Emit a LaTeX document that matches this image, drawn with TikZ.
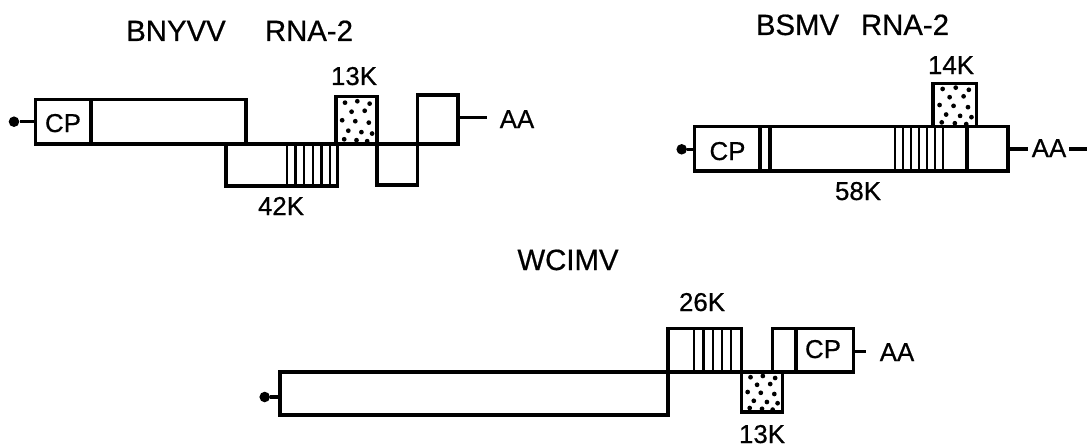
\documentclass[tikz,border=0pt]{standalone}
\usepackage{fontspec}
\setmainfont{Liberation Sans}[FakeBold=0.6]
\newcommand{\mystip}[4]{%
  \foreach \u/\v in {0.22/0.13,0.52/0.1,0.82/0.15,0.38/0.32,0.7/0.3,0.15/0.5,0.47/0.52,0.8/0.55,0.3/0.72,0.62/0.75,0.88/0.78,0.2/0.9,0.5/0.92,0.76/0.94}{%
    \fill ({#1+\u*(#3-#1)},{#2+\v*(#4-#2)}) circle[radius=1.35pt];}}
\begin{document}
\begin{tikzpicture}[x=0.02cm,y=-0.02cm,
  bx/.style={line width=1.8pt,line join=miter},
  hl/.style={line width=1.6pt},
  lab/.style={inner sep=0pt,anchor=base,font=\fontsize{14.7}{16}\selectfont},
  ttl/.style={inner sep=0pt,anchor=base,font=\fontsize{16.7}{19}\selectfont},
  cap5/.style={circle,fill=black,inner sep=0pt,minimum size=6pt}]
\useasboundingbox (0,0) rectangle (1087,446);

% ---------- BNYVV RNA-2 ----------
\node[ttl] (t1a) at (176,41) {BNYVV};
\node[ttl] (t1b) at (309,41) {RNA-2};
\node[cap5] (d1) at (14,121.7) {};
\coordinate (b1l) at (35.5,121.7);
\draw[bx] (d1) -- (b1l);
\draw[bx] (35.5,99.5) rectangle (246,144);
\draw[bx] (91,99.5) -- (91,144);
\node[lab] (cp1) at (63,132) {CP};
\draw[bx] (226,144) rectangle (337.5,186);
\foreach \x in {287,295.5,304,313,321.5,330} \draw[hl] (\x,144) -- (\x,186);
\node[lab] (k42) at (281,215) {42K};
\draw[bx,fill=white] (336,96.5) rectangle (377,144);
\mystip{336}{96.5}{377}{144}
\node[lab] (k13a) at (354,85) {13K};
\draw[bx] (377,144) rectangle (417.5,185);
\draw[bx] (417.5,95) rectangle (458,144);
\coordinate (e1) at (458,117.5);
\node[lab] (aa1) at (517,128) {AA};
\draw[bx] (e1) -- (487,117.5);

% ---------- BSMV RNA-2 ----------
\node[ttl] (t2a) at (797.5,35) {BSMV};
\node[ttl] (t2b) at (905,35) {RNA-2};
\node[cap5] (d2) at (681.7,149.3) {};
\coordinate (b2l) at (694.3,149.3);
\draw[bx] (d2) -- (b2l);
\draw[bx] (694.3,126.7) rectangle (1008,171);
\foreach \x in {760,770,967} \draw[bx] (\x,126.7) -- (\x,171);
\foreach \x in {895,903,911,919,927,935,943} \draw[hl] (\x,126.7) -- (\x,171);
\node[lab] (cp2) at (727.5,160) {CP};
\node[lab] (k58) at (858,200) {58K};
\draw[bx,fill=white] (933,83.3) rectangle (976.7,126.7);
\mystip{933}{83.3}{976.7}{126.7}
\node[lab] (k14) at (951,74) {14K};
\node[lab] (aa2) at (1049,157) {AA};
\draw[bx] (1008,149) -- (1028,149);
\draw[bx] (1069,149) -- (1087,149);

% ---------- WCIMV ----------
\node[ttl] (t3) at (568,270) {WCIMV};
\node[cap5] (d3) at (264.7,397) {};
\coordinate (b3l) at (280,397);
\draw[bx] (d3) -- (b3l);
\draw[bx] (280,372) rectangle (668,415);
\draw[bx] (668,328.5) rectangle (741.5,372);
\foreach \x in {694,703.5,713,722,731} \draw[hl] (\x,328.5) -- (\x,372);
\node[lab] (k26) at (702,311) {26K};
\draw[bx,fill=white] (741.5,372) rectangle (782.5,412);
\mystip{741.5}{372}{782.5}{412}
\node[lab] (k13b) at (762,443) {13K};
\draw[bx] (772.5,328.5) rectangle (853.5,372);
\draw[bx] (796,328.5) -- (796,372);
\node[lab] (cp3) at (823,358) {CP};
\draw[bx] (853.5,351.7) -- (865.6,351.7);
\node[lab] (aa3) at (897,361) {AA};
\end{tikzpicture}
\end{document}
